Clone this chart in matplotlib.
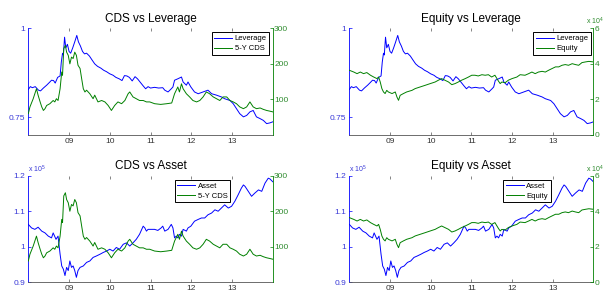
import matplotlib.pyplot as plt

plt.rcParams['font.family'] = 'Liberation Sans'
plt.rcParams['mathtext.default'] = 'regular'

# dates in decimal years
lev_t = [2008.00, 2008.05, 2008.10, 2008.17, 2008.25, 2008.30, 2008.37, 2008.45, 2008.52, 2008.57,
         2008.62, 2008.66, 2008.72, 2008.78, 2008.81, 2008.84, 2008.86, 2008.89, 2008.92, 2008.96,
         2009.00, 2009.04, 2009.09, 2009.14, 2009.19, 2009.23, 2009.28, 2009.33, 2009.38, 2009.43,
         2009.50, 2009.57, 2009.63, 2009.70, 2009.78, 2009.85, 2009.92, 2010.00, 2010.08, 2010.15,
         2010.23, 2010.30, 2010.36, 2010.42, 2010.48, 2010.55, 2010.62, 2010.68, 2010.75, 2010.82,
         2010.88, 2010.94, 2011.00, 2011.10, 2011.20, 2011.30, 2011.35, 2011.43, 2011.51, 2011.55,
         2011.59, 2011.67, 2011.76, 2011.80, 2011.88, 2011.92, 2011.99, 2012.08, 2012.17, 2012.29,
         2012.41, 2012.50, 2012.62, 2012.74, 2012.82, 2012.95, 2013.03, 2013.11, 2013.19, 2013.28,
         2013.36, 2013.44, 2013.52, 2013.60, 2013.69, 2013.77, 2013.85, 2013.93, 2014.00]
leverage = [0.828, 0.836, 0.833, 0.836, 0.826, 0.824, 0.832, 0.840, 0.848, 0.854,
            0.853, 0.846, 0.862, 0.866, 0.905, 0.930, 0.925, 0.975, 0.945, 0.955,
            0.935, 0.930, 0.945, 0.962, 0.980, 0.962, 0.950, 0.935, 0.928, 0.930,
            0.922, 0.910, 0.900, 0.893, 0.888, 0.882, 0.878, 0.872, 0.868, 0.862,
            0.858, 0.853, 0.867, 0.866, 0.862, 0.852, 0.864, 0.858, 0.848, 0.838,
            0.830, 0.836, 0.832, 0.834, 0.832, 0.833, 0.826, 0.821, 0.830, 0.835,
            0.854, 0.858, 0.863, 0.849, 0.840, 0.849, 0.835, 0.821, 0.816, 0.821,
            0.826, 0.816, 0.812, 0.807, 0.802, 0.797, 0.788, 0.774, 0.760, 0.751,
            0.755, 0.765, 0.769, 0.751, 0.746, 0.741, 0.732, 0.734, 0.737]

cds_t = [2008.00, 2008.04, 2008.12, 2008.16, 2008.20, 2008.24, 2008.29, 2008.33, 2008.37, 2008.41,
         2008.45, 2008.53, 2008.61, 2008.65, 2008.69, 2008.73, 2008.78, 2008.82, 2008.84, 2008.87,
         2008.91, 2008.94, 2008.98, 2009.02, 2009.06, 2009.10, 2009.14, 2009.18, 2009.22, 2009.27,
         2009.31, 2009.35, 2009.39, 2009.43, 2009.51, 2009.59, 2009.63, 2009.71, 2009.80, 2009.88,
         2009.96, 2010.04, 2010.12, 2010.20, 2010.29, 2010.37, 2010.45, 2010.49, 2010.57, 2010.65,
         2010.73, 2010.82, 2010.90, 2010.98, 2011.10, 2011.25, 2011.40, 2011.52, 2011.59, 2011.67,
         2011.71, 2011.76, 2011.80, 2011.88, 2011.96, 2012.04, 2012.13, 2012.21, 2012.29, 2012.37,
         2012.45, 2012.54, 2012.62, 2012.70, 2012.78, 2012.87, 2012.95, 2013.03, 2013.11, 2013.19,
         2013.28, 2013.36, 2013.44, 2013.52, 2013.60, 2013.69, 2013.77, 2013.85, 2013.93, 2014.00]
cds = [60, 79, 102, 116, 130, 112, 93, 79, 69, 74,
       83, 88, 97, 93, 102, 97, 130, 177, 168, 243,
       252, 233, 224, 200, 219, 215, 233, 224, 196, 187,
       158, 130, 121, 126, 116, 102, 112, 93, 97, 93,
       83, 69, 83, 93, 88, 97, 116, 121, 107, 102,
       97, 97, 93, 93, 88, 86, 88, 90, 116, 135,
       121, 144, 130, 116, 107, 97, 93, 97, 107, 121,
       116, 107, 102, 97, 107, 107, 97, 93, 88, 79,
       74, 79, 93, 79, 74, 76, 72, 69, 67, 65]

eq_t = [2008.00, 2008.11, 2008.19, 2008.27, 2008.35, 2008.43, 2008.52, 2008.60, 2008.68, 2008.72,
        2008.76, 2008.80, 2008.84, 2008.88, 2008.92, 2008.96, 2009.05, 2009.13, 2009.17, 2009.21,
        2009.25, 2009.33, 2009.41, 2009.54, 2009.62, 2009.74, 2009.86, 2009.99, 2010.11, 2010.19,
        2010.27, 2010.35, 2010.44, 2010.52, 2010.60, 2010.68, 2010.76, 2010.85, 2010.93, 2011.01,
        2011.09, 2011.17, 2011.26, 2011.34, 2011.42, 2011.50, 2011.58, 2011.67, 2011.71, 2011.75,
        2011.83, 2011.91, 2012.00, 2012.12, 2012.20, 2012.32, 2012.41, 2012.49, 2012.57, 2012.65,
        2012.74, 2012.82, 2012.90, 2012.98, 2013.07, 2013.15, 2013.23, 2013.31, 2013.39, 2013.48,
        2013.56, 2013.64, 2013.72, 2013.81, 2013.89, 2014.00]
equity = [3.64, 3.54, 3.45, 3.54, 3.45, 3.51, 3.36, 3.26, 3.17, 3.26,
          2.98, 2.61, 2.42, 2.33, 2.51, 2.42, 2.33, 2.42, 2.14, 1.95,
          2.23, 2.33, 2.42, 2.51, 2.61, 2.70, 2.79, 2.89, 2.98, 3.08,
          3.17, 3.08, 2.98, 2.83, 2.89, 2.98, 3.08, 3.17, 3.26, 3.36,
          3.36, 3.32, 3.39, 3.36, 3.39, 3.26, 3.36, 3.02, 2.89, 2.98,
          2.94, 3.08, 3.17, 3.26, 3.39, 3.36, 3.45, 3.54, 3.45, 3.54,
          3.58, 3.54, 3.64, 3.73, 3.83, 3.83, 3.92, 3.96, 3.92, 4.01,
          3.96, 3.92, 4.07, 4.11, 4.14, 4.11]  # x 1e4

asset_t = [2008.00, 2008.08, 2008.16, 2008.24, 2008.33, 2008.41, 2008.49, 2008.57, 2008.61, 2008.68,
           2008.73, 2008.78, 2008.82, 2008.86, 2008.90, 2008.94, 2008.98, 2009.02, 2009.06, 2009.10,
           2009.14, 2009.18, 2009.22, 2009.27, 2009.35, 2009.43, 2009.51, 2009.59, 2009.67, 2009.76,
           2009.84, 2009.92, 2010.00, 2010.08, 2010.16, 2010.24, 2010.33, 2010.41, 2010.49, 2010.57,
           2010.65, 2010.73, 2010.82, 2010.86, 2010.90, 2010.94, 2011.02, 2011.10, 2011.18, 2011.26,
           2011.30, 2011.35, 2011.43, 2011.51, 2011.55, 2011.59, 2011.63, 2011.67, 2011.71, 2011.76,
           2011.80, 2011.88, 2011.92, 2011.99, 2012.08, 2012.17, 2012.25, 2012.33, 2012.41, 2012.50,
           2012.58, 2012.66, 2012.74, 2012.82, 2012.91, 2012.99, 2013.07, 2013.15, 2013.23, 2013.28,
           2013.32, 2013.40, 2013.48, 2013.56, 2013.65, 2013.73, 2013.81, 2013.89, 2013.93, 2014.00]
asset = [1.063, 1.053, 1.049, 1.055, 1.044, 1.039, 1.030, 1.025, 1.039, 1.021,
         1.030, 0.979, 0.946, 0.937, 0.919, 0.942, 0.933, 0.960, 0.942, 0.946,
         0.933, 0.914, 0.933, 0.942, 0.946, 0.956, 0.960, 0.970, 0.974, 0.979,
         0.984, 0.988, 0.993, 0.988, 0.998, 0.993, 1.007, 1.011, 1.002, 1.011,
         1.021, 1.035, 1.058, 1.053, 1.044, 1.049, 1.049, 1.049, 1.046, 1.053,
         1.058, 1.044, 1.049, 1.063, 1.053, 1.025, 1.030, 1.025, 1.035, 1.030,
         1.049, 1.044, 1.053, 1.058, 1.072, 1.077, 1.081, 1.081, 1.090, 1.095,
         1.104, 1.100, 1.109, 1.118, 1.109, 1.114, 1.128, 1.146, 1.165, 1.174,
         1.170, 1.156, 1.142, 1.151, 1.160, 1.156, 1.179, 1.193, 1.191, 1.183]  # x 1e5

years = [2009, 2010, 2011, 2012, 2013]
year_labels = ['09', '10', '11', '12', '13']

BLUE = '#0000ff'
GREEN = '#008000'

fig = plt.figure(figsize=(6.05, 2.92), dpi=100)


def panel(rect, title, t1, y1, name1, lim1, ticks1, labels1,
          t2, y2, name2, lim2, ticks2, labels2, leg_x, exp1=None, exp2=None):
    ax = fig.add_axes(rect)
    ax2 = ax.twinx()
    l1, = ax.plot(t1, y1, color=BLUE, lw=0.7)
    l2, = ax2.plot(t2, y2, color=GREEN, lw=0.7)
    ax.set_xlim(2008, 2014)
    ax.set_ylim(*lim1)
    ax2.set_ylim(*lim2)
    ax.set_xticks(years)
    ax.set_xticklabels(year_labels)
    ax.set_yticks(ticks1)
    ax.set_yticklabels(labels1)
    ax2.set_yticks(ticks2)
    ax2.set_yticklabels(labels2)

    for s in ['top', 'right']:
        ax.spines[s].set_visible(False)
    for s in ['top', 'left', 'bottom']:
        ax2.spines[s].set_visible(False)
    ax.spines['left'].set_color(BLUE)
    ax.spines['bottom'].set_color('#555555')
    ax2.spines['right'].set_color(GREEN)
    for sp in [ax.spines['left'], ax.spines['bottom'], ax2.spines['right']]:
        sp.set_linewidth(0.6)

    ax.tick_params(axis='x', direction='in', length=2, width=0.5, color='#555555',
                   labelsize=6, labelcolor='#333333', pad=2, top=True)
    ax.tick_params(axis='y', direction='in', length=2, width=0.5, color=BLUE,
                   labelsize=6, labelcolor='#3a3ad8', pad=2)
    ax2.tick_params(axis='y', direction='in', length=2, width=0.5, color=GREEN,
                    labelsize=6, labelcolor='#2e8b2e', pad=1)

    ax.set_title(title, fontsize=8.5, pad=4.5)
    if exp1:
        ax.text(0.0, 1.01, exp1, transform=ax.transAxes, fontsize=5, color='#3a3ad8',
                ha='left', va='bottom')
    if exp2:
        # keep the right-hand exponent inside the figure edge
        ax2.text(1.045, 1.01, exp2, transform=ax2.transAxes, fontsize=5, color='#2e8b2e',
                 ha='right', va='bottom')

    leg = ax2.legend([l1, l2], [name1, name2], loc='upper right', bbox_to_anchor=(leg_x, 0.962),
                     borderaxespad=0, fontsize=5.5, handlelength=2.35, handletextpad=0.3,
                     borderpad=0.35, labelspacing=0.35, fancybox=False, framealpha=1,
                     edgecolor='black')
    leg.get_frame().set_linewidth(0.7)


lev_ticks = ([0.75, 1], ['0.75', '1'])
cds_ticks = ([100, 200, 300], ['100', '200', '300'])
eq_ticks = ([0, 2, 4, 6], ['0', '2', '4', '6'])
asset_ticks = ([0.9, 1, 1.1, 1.2], ['0.9', '1', '1.1', '1.2'])

panel([0.0468, 0.5377, 0.404, 0.3654], 'CDS vs Leverage',
      lev_t, leverage, 'Leverage', (0.7, 1), *lev_ticks,
      cds_t, cds, '5-Y CDS', (0, 300), *cds_ticks, 0.986)
panel([0.5774, 0.5377, 0.4033, 0.3654], 'Equity vs Leverage',
      lev_t, leverage, 'Leverage', (0.7, 1), *lev_ticks,
      eq_t, equity, 'Equity', (0, 6), *eq_ticks, 0.989, exp2=r'x 10$^4$')
panel([0.0468, 0.0332, 0.404, 0.3651], 'CDS vs Asset',
      asset_t, asset, 'Asset', (0.9, 1.2), *asset_ticks,
      cds_t, cds, '5-Y CDS', (0, 300), *cds_ticks, 0.825, exp1=r'x 10$^5$')
panel([0.5774, 0.0332, 0.4033, 0.3651], 'Equity vs Asset',
      asset_t, asset, 'Asset', (0.9, 1.2), *asset_ticks,
      eq_t, equity, 'Equity', (0, 6), *eq_ticks, 0.825,
      exp1=r'x 10$^5$', exp2=r'x 10$^4$')

fig.savefig('out.png', dpi=100)
